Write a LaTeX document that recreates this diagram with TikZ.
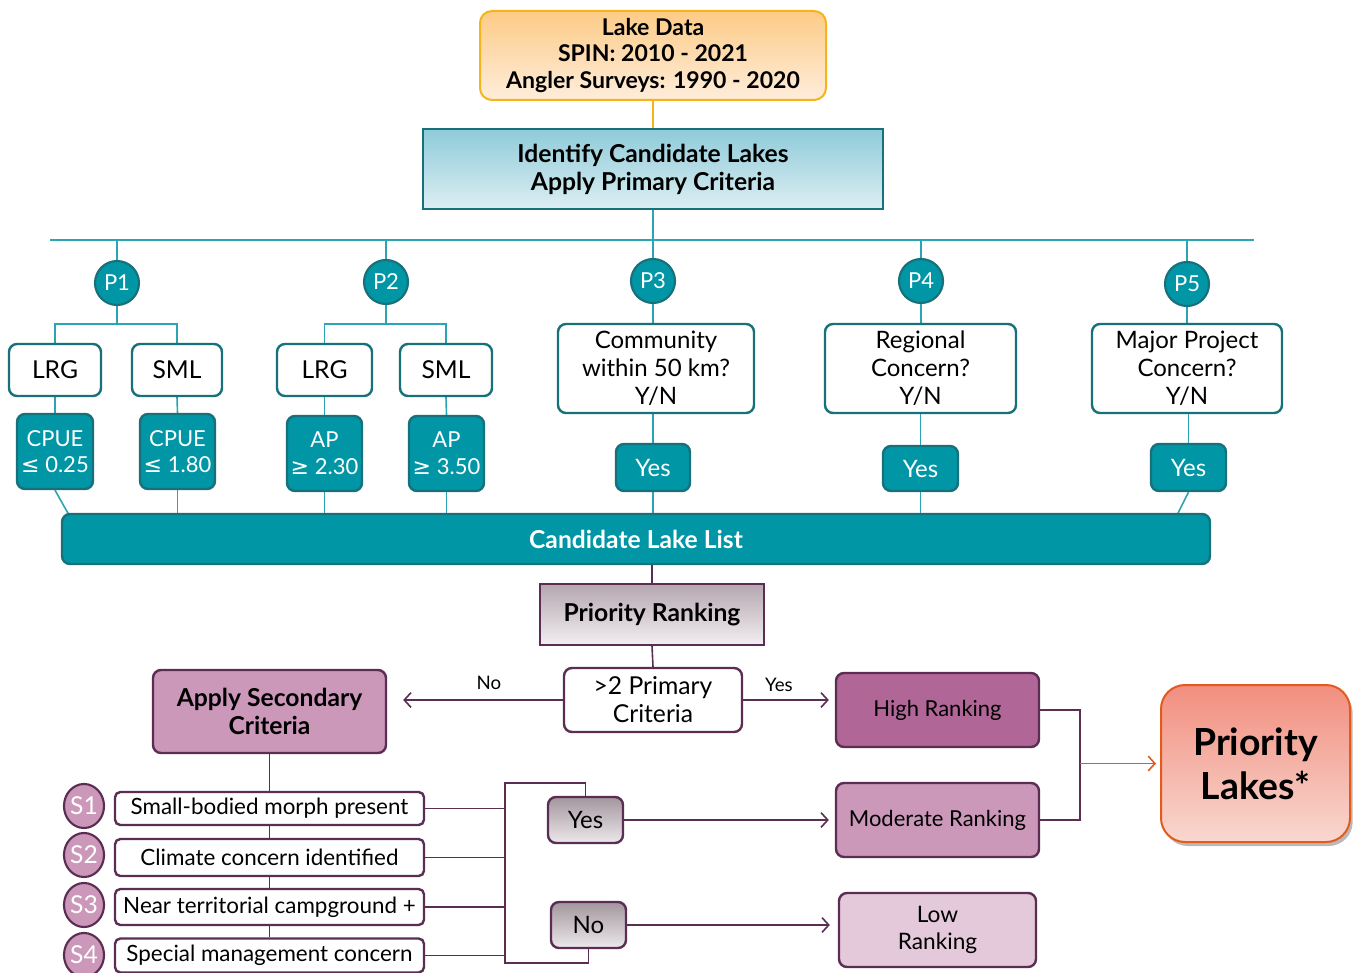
\documentclass[tikz,border=0pt]{standalone}
\usepackage{fontspec}
\setmainfont{Lato}
\newfontfamily\symf{DejaVu Sans}
\usetikzlibrary{arrows.meta,shadows,backgrounds,calc,shapes.geometric}
\definecolor{tealL}{HTML}{2AA5B3}
\definecolor{tealF}{HTML}{0096A6}
\definecolor{tealD}{HTML}{17707A}
\definecolor{purD}{HTML}{5B2D52}
\definecolor{mauve}{HTML}{CB98BA}
\definecolor{mauveD}{HTML}{B06696}
\definecolor{mauveL}{HTML}{E4C9DB}
\definecolor{orB}{HTML}{F4B41A}
\definecolor{orTop}{HTML}{FDCB86}
\definecolor{orBot}{HTML}{FEEDDC}
\definecolor{idTop}{HTML}{8ECBD9}
\definecolor{idBot}{HTML}{DDEEF3}
\definecolor{prTop}{HTML}{B5A6AF}
\definecolor{prBot}{HTML}{F2EFF1}
\definecolor{gTop}{HTML}{A3969E}
\definecolor{gBot}{HTML}{ECE8EB}
\definecolor{plTop}{HTML}{F28E7F}
\definecolor{plBot}{HTML}{F8D8D0}
\definecolor{plB}{HTML}{E35B1B}
\tikzset{
  wh/.style 2 args={minimum width=#1*0.75pt, minimum height=#2*0.75pt},
  mybase/.style={inner sep=0pt, align=center, font=\fontsize{16.5}{20}\selectfont},
  bfont/.style={font=\bfseries\fontsize{18.5}{21}\selectfont},
  wbox/.style={mybase, draw=tealD, line width=1.8pt, fill=white, rounded corners=6pt},
  tbox/.style={mybase, draw=tealD, line width=1.8pt, fill=tealF, text=white, rounded corners=6pt},
  pcirc/.style={mybase, circle, draw=tealD, line width=1.6pt, fill=tealF, text=white, minimum size=33pt},
  pbox/.style={mybase, draw=purD, line width=1.8pt, rounded corners=6pt},
  scirc/.style={mybase, ellipse, draw=purD, line width=1.6pt, fill=mauve, text=white, minimum width=30pt, minimum height=33pt, font=\fontsize{18.5}{20}\selectfont},
  tl/.style={draw=tealL, line width=1.2pt},
  pline/.style={draw=purD, line width=1.2pt},
  arr/.style={pline, -{Straight Barb[length=5pt,width=11pt,line width=1.2pt]}},
  orarr/.style={draw=plB, line width=1.2pt, -{Straight Barb[length=5pt,width=11pt,line width=1.2pt]}},
  lab/.style={inner sep=0pt, font=\fontsize{14}{16}\selectfont},
  qfont/.style={font=\fontsize{18}{21}\selectfont},
  big/.style={font=\fontsize{18.5}{21}\selectfont}
}
\begin{document}
\begin{tikzpicture}[x=0.75pt,y=-0.75pt]
\useasboundingbox (0,0) rectangle (1355,973);

% top
\node[mybase, wh={346}{89}, draw=orB, line width=1.5pt, rounded corners=9pt, top color=orTop, bottom color=orBot, font=\bfseries\fontsize{17.3}{20}\selectfont] (lake) at (653,55.5) {Lake Data\\SPIN: 2010 - 2021\\Angler Surveys: 1990 - 2020};
\node[mybase, bfont, wh={460}{80}, draw=tealD, line width=1.5pt, top color=idTop, bottom color=idBot] (ident) at (653,169) {Identify Candidate Lakes\\Apply Primary Criteria};

\coordinate (hl) at (50,240);
\coordinate (hr) at (1254,240);

% P circles
\node[pcirc] (p1) at (117,283) {P1};
\node[pcirc] (p2) at (386,282) {P2};
\node[pcirc] (p3) at (653,281) {P3};
\node[pcirc] (p4) at (921,281) {P4};
\node[pcirc] (p5) at (1187,284) {P5};

% P1 / P2
\node[wbox, big, wh={92}{52}] (lrg1) at (55,370) {LRG};
\node[wbox, big, wh={90}{52}] (sml1) at (177,370) {SML};
\node[tbox, wh={76}{75}] (c1) at (55,451.5) {CPUE\\{\symf ≤} 0.25};
\node[tbox, wh={75}{75}] (c2) at (177.5,451.5) {CPUE\\{\symf ≤} 1.80};
\node[wbox, big, wh={95}{52}] (lrg2) at (324.5,370) {LRG};
\node[wbox, big, wh={92}{52}] (sml2) at (446,370) {SML};
\node[tbox, wh={75}{75}] (a1) at (324.5,453.5) {AP\\{\symf ≥} 2.30};
\node[tbox, wh={75}{75}] (a2) at (446.5,453.5) {AP\\{\symf ≥} 3.50};

% P3-P5
\node[wbox, qfont, wh={196}{89}] (q3) at (656,368.5) {Community\\within 50 km?\\Y/N};
\node[tbox, qfont, wh={74}{47}] (y3) at (653,467.5) {Yes};
\node[wbox, qfont, wh={191}{89}] (q4) at (920.5,368.5) {Regional\\Concern?\\Y/N};
\node[tbox, qfont, wh={75}{45}] (y4) at (920.5,468.5) {Yes};
\node[wbox, qfont, wh={190}{89}] (q5) at (1187,368.5) {Major Project\\Concern?\\Y/N};
\node[tbox, qfont, wh={75}{47}] (y5) at (1188.5,467.5) {Yes};

% bar
\node[tbox, bfont, wh={1148}{50}] (bar) at (636,539) {Candidate Lake List};

% ranking
\node[mybase, bfont, wh={224}{61}, draw=purD, line width=1.5pt, top color=prTop, bottom color=prBot] (pr) at (652,614.5) {Priority Ranking};
\node[pbox, fill=white, wh={178}{64}, font=\fontsize{18.5}{21}\selectfont] (crit) at (653,700) {>2 Primary\\Criteria};
\node[pbox, bfont, fill=mauve, wh={233}{83}] (as) at (269.5,711.5) {Apply Secondary\\Criteria};
\node[pbox, fill=mauveD, wh={203}{74}] (high) at (937.5,710) {High Ranking};
\node[pbox, fill=mauve, wh={203}{74}] (mod) at (937.5,820) {Moderate Ranking};
\node[pbox, fill=mauveL, wh={197}{74}, font=\fontsize{17}{20}\selectfont] (low) at (937.5,930) {Low\\Ranking};
\node[mybase, wh={189}{157}, draw=plB, line width=1.5pt, rounded corners=18pt, top color=plTop, bottom color=plBot, drop shadow={shadow xshift=2pt, shadow yshift=-3pt, opacity=0.55}, font=\bfseries\fontsize{28}{33}\selectfont] (plakes) at (1255.5,763.5) {Priority\\Lakes*};

\node[pbox, qfont, top color=gTop, bottom color=gBot, wh={75}{46}] (sy) at (585.5,820) {Yes};
\node[pbox, qfont, top color=gTop, bottom color=gBot, wh={75}{46}] (sn) at (588.5,925) {No};

% secondary criteria
\node[pbox, fill=white, wh={309}{33}, rounded corners=4pt, font=\fontsize{16.8}{20}\selectfont] (s1) at (269.5,808.5) {Small-bodied morph present};
\node[pbox, fill=white, wh={309}{37}, rounded corners=4pt, font=\fontsize{16.8}{20}\selectfont] (s2) at (269.5,857.5) {Climate concern identified};
\node[pbox, fill=white, wh={309}{36}, rounded corners=4pt, font=\fontsize{16.8}{20}\selectfont] (s3) at (269.5,907) {Near territorial campground +};
\node[pbox, fill=white, wh={309}{34}, rounded corners=4pt, font=\fontsize{16.8}{20}\selectfont] (s4) at (269.5,955.5) {Special management concern};
\node[scirc] (e1) at (84,806) {S1};
\node[scirc] (e2) at (84,855) {S2};
\node[scirc] (e3) at (84,905) {S3};
\node[scirc] (e4) at (84,955) {S4};

\node[lab] (lno) at (489,683) {No};
\node[lab] (lyes) at (779,685) {Yes};

\begin{scope}[on background layer]
\draw[draw=orB, line width=1.2pt] (lake.south) -- (ident.north);
\draw[tl] (hl) -- (hr);
\draw[tl] (ident.south) -- (ident.south |- hl);
\foreach \p in {p1,p2,p3,p4,p5} \draw[tl] (\p.north) -- (\p.north |- hl);
\coordinate (b1) at (117,324);
\coordinate (b2) at (386,324);
\draw[tl] (p1.south) -- (b1);
\draw[tl] (lrg1.north) |- (b1) -| (sml1.north);
\draw[tl] (p2.south) -- (b2);
\draw[tl] (lrg2.north) |- (b2) -| (sml2.north);
\draw[tl] (lrg1.south) -- (c1.north);
\draw[tl] (sml1.south) -- (c2.north);
\draw[tl] (lrg2.south) -- (a1.north);
\draw[tl] (sml2.south) -- (a2.north);
\draw[tl] (p3.south) -- (p3.south |- q3.north);
\draw[tl] (p4.south) -- (p4.south |- q4.north);
\draw[tl] (p5.south) -- (p5.south |- q5.north);
\draw[tl] (q3.south -| y3.north) -- (y3.north);
\draw[tl] (q4.south -| y4.north) -- (y4.north);
\draw[tl] (q5.south -| y5.north) -- (y5.north);
\coordinate (k1) at (69,515);
\coordinate (k5) at (1177,515);
\draw[tl] (c1.south) -- (k1);
\draw[tl] (c2.south) -- (c2.south |- bar.north);
\draw[tl] (a1.south) -- (a1.south |- bar.north);
\draw[tl] (a2.south) -- (a2.south |- bar.north);
\draw[tl] (y3.south) -- (y3.south |- bar.north);
\draw[tl] (y4.south) -- (y4.south |- bar.north);
\draw[tl] (y5.south) -- (k5);
\draw[pline] (bar.south -| pr.north) -- (pr.north);
\draw[pline] (pr.south) -- (crit.north);
\draw[pline] (as.south) -- (s4.north);
\coordinate (bt) at (505,783);
\coordinate (bb) at (505,963);
\draw[pline] (sy.north) |- (bt) -- (bb) -| (sn.south);
\foreach \s in {s1,s2,s3,s4} \draw[pline] (\s.east) -- (\s.east -| bt);
\end{scope}

\draw[arr, shorten >=12pt] (crit.west) -- (crit.west -| as.east);
\draw[arr, shorten >=4.5pt] (crit.east) -- (crit.east -| high.west);
\draw[arr, shorten >=4.5pt] (sy.east) -- (sy.east -| mod.west);
\draw[arr, shorten >=6pt] (sn.east) -- (sn.east -| low.west);
\coordinate (jn) at (1080,763.5);
\draw[pline] (high.east) -| (jn) |- (mod.east);
\draw[orarr, shorten >=3pt] (jn) -- (plakes.west);
\end{tikzpicture}
\end{document}
